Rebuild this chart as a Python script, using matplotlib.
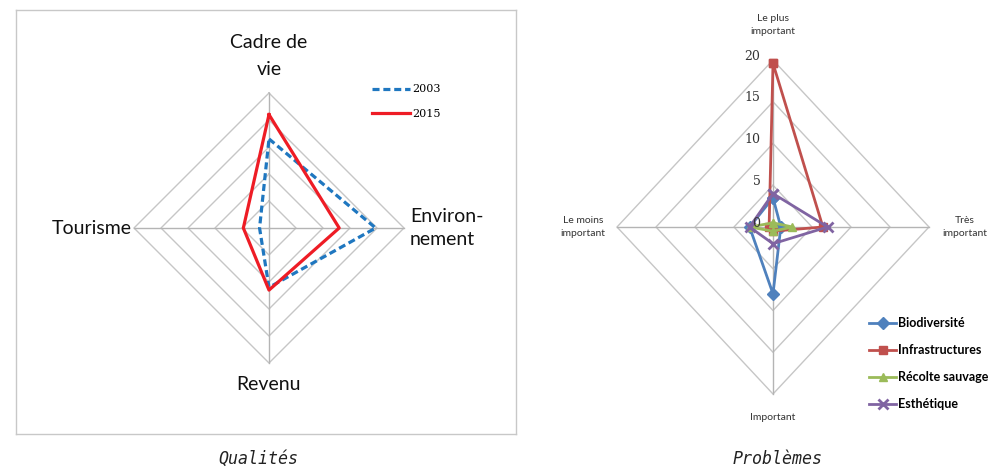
import numpy as np
import matplotlib.pyplot as plt

plt.rcParams['font.family'] = ['Lato', 'DejaVu Sans']

# Qualités (0-5 scale, clockwise from top)
q_axes = ['Cadre de\nvie', 'Environ-\nnement', 'Revenu', 'Tourisme']
q_2003 = [3.3, 3.95, 2.2, 0.35]
q_2015 = [4.2, 2.6, 2.3, 0.95]
q_rings = [1, 2, 3, 4, 5]

# Problèmes (0-20 scale, clockwise from top)
p_axes = ['Le plus\nimportant', 'Très\nimportant', 'Important', 'Le moins\nimportant']
p_series = ['Biodiversité', 'Infrastructures', 'Récolte sauvage', 'Esthétique']
p_values = [
    [3.5, 1, 8, 3],
    [19.6, 6.4, 0.5, 0.5],
    [0.5, 2.5, 0.5, 3],
    [4, 7, 2, 3],
]
p_rings = [5, 10, 15, 20]
p_colors = ['#4F81BD', '#C0504D', '#9BBB59', '#8064A2']
p_markers = ['D', 's', '^', 'x']

# directions: top, right, bottom, left
DX = np.array([0, 1, 0, -1])
DY = np.array([1, 0, -1, 0])


def to_xy(vals):
    v = np.asarray(vals, dtype=float)
    x = np.append(v * DX, v[0] * DX[0])
    y = np.append(v * DY, v[0] * DY[0])
    return x, y


def draw_grid(ax, rings):
    for r in rings:
        x, y = to_xy([r] * 4)
        ax.plot(x, y, color='#c6c6c6', lw=1, zorder=1)
    rmax = max(rings)
    for dx, dy in zip(DX, DY):
        ax.plot([0, dx * rmax], [0, dy * rmax], color='#b4b4b4', lw=1, zorder=1)


W, H = 1004, 470
fig = plt.figure(figsize=(W / 100, H / 100), dpi=100)

# ---------- left chart ----------
cx, cy, ppu = 269, 228, 27.0
l, r, t, b = 16, 516, 10, 434
ax1 = fig.add_axes([l / W, 1 - b / H, (r - l) / W, (b - t) / H])
ax1.set_xlim((l - cx) / ppu, (r - cx) / ppu)
ax1.set_ylim((cy - b) / ppu, (cy - t) / ppu)
ax1.set_xticks([])
ax1.set_yticks([])
for s in ax1.spines.values():
    s.set_color('#c8c8c8')
    s.set_linewidth(1)

draw_grid(ax1, q_rings)
x, y = to_xy(q_2003)
ax1.plot(x, y, color='#1F77C0', lw=2.3, ls=(0, (2.2, 1.2)), label='2003', zorder=3)
x, y = to_xy(q_2015)
ax1.plot(x, y, color='#EE1C25', lw=2.3, label='2015', zorder=3)

lab_fs = 14
ax1.text(0, (cy - 56) / ppu, q_axes[0], ha='center', va='center', fontsize=lab_fs,
         linespacing=1.65, color='#111111')
ax1.text((410 - cx) / ppu, 0, q_axes[1], ha='left', va='center', fontsize=lab_fs,
         linespacing=1.45, multialignment='left', color='#111111')
ax1.text(0, -(385 - cy) / ppu, q_axes[2], ha='center', va='center', fontsize=lab_fs,
         color='#111111')
ax1.text((132 - cx) / ppu, 0, q_axes[3], ha='right', va='center', fontsize=lab_fs,
         color='#111111')

ax1.legend(loc='upper left', bbox_to_anchor=((368 - l) / (r - l), 1 - (80 - t) / (b - t)),
           frameon=False, handlelength=3.4, handletextpad=0.15,
           labelspacing=1.3, borderaxespad=0, prop={'family': 'DejaVu Serif', 'size': 8})

# ---------- right chart ----------
cx2, cy2 = 773, 227
ppx, ppy = 7.8, 8.35
l2, r2, t2, b2 = 545, 1004, 0, 430
ax2 = fig.add_axes([l2 / W, 1 - b2 / H, (r2 - l2) / W, (b2 - t2) / H])
ax2.set_xlim((l2 - cx2) / ppx, (r2 - cx2) / ppx)
ax2.set_ylim((cy2 - b2) / ppy, (cy2 - t2) / ppy)
ax2.axis('off')

draw_grid(ax2, p_rings)
for name, vals, col, mk in zip(p_series, p_values, p_colors, p_markers):
    x, y = to_xy(vals)
    ax2.plot(x, y, color=col, lw=2, marker=mk, ms=6 if mk != 'x' else 7,
             mew=2 if mk == 'x' else 1, label=name, zorder=3)

for tv in [0] + p_rings:
    ax2.text(-1.6, tv + 0.45, str(tv), ha='right', va='center', fontsize=9,
             family='DejaVu Serif', color='#333333')

small_fs = 7.5
ax2.text(0, (cy2 - 25) / ppy, p_axes[0], ha='center', va='center', fontsize=small_fs,
         linespacing=1.6, color='#333333')
ax2.text((965 - cx2) / ppx, 0, p_axes[1], ha='center', va='center', fontsize=small_fs,
         linespacing=1.6, color='#333333')
ax2.text(0, -(417 - cy2) / ppy, p_axes[2], ha='center', va='center', fontsize=small_fs,
         color='#333333')
ax2.text((583 - cx2) / ppx, 0, p_axes[3], ha='center', va='center', fontsize=small_fs,
         linespacing=1.6, color='#333333')

ax2.legend(loc='upper left', bbox_to_anchor=((864 - l2) / (r2 - l2), 1 - (312 - t2) / (b2 - t2)),
           frameon=False, handlelength=2.2, handletextpad=0.1, labelspacing=1.2,
           borderaxespad=0, prop={'size': 9, 'weight': 'bold'})

# captions
fig.text(258 / W, 1 - 459 / H, 'Qualités', ha='center', va='center', fontsize=12,
         style='italic', family='DejaVu Sans Mono', color='#222222')
fig.text(778 / W, 1 - 459 / H, 'Problèmes', ha='center', va='center', fontsize=12,
         style='italic', family='DejaVu Sans Mono', color='#222222')

fig.savefig('out.png', dpi=100)
